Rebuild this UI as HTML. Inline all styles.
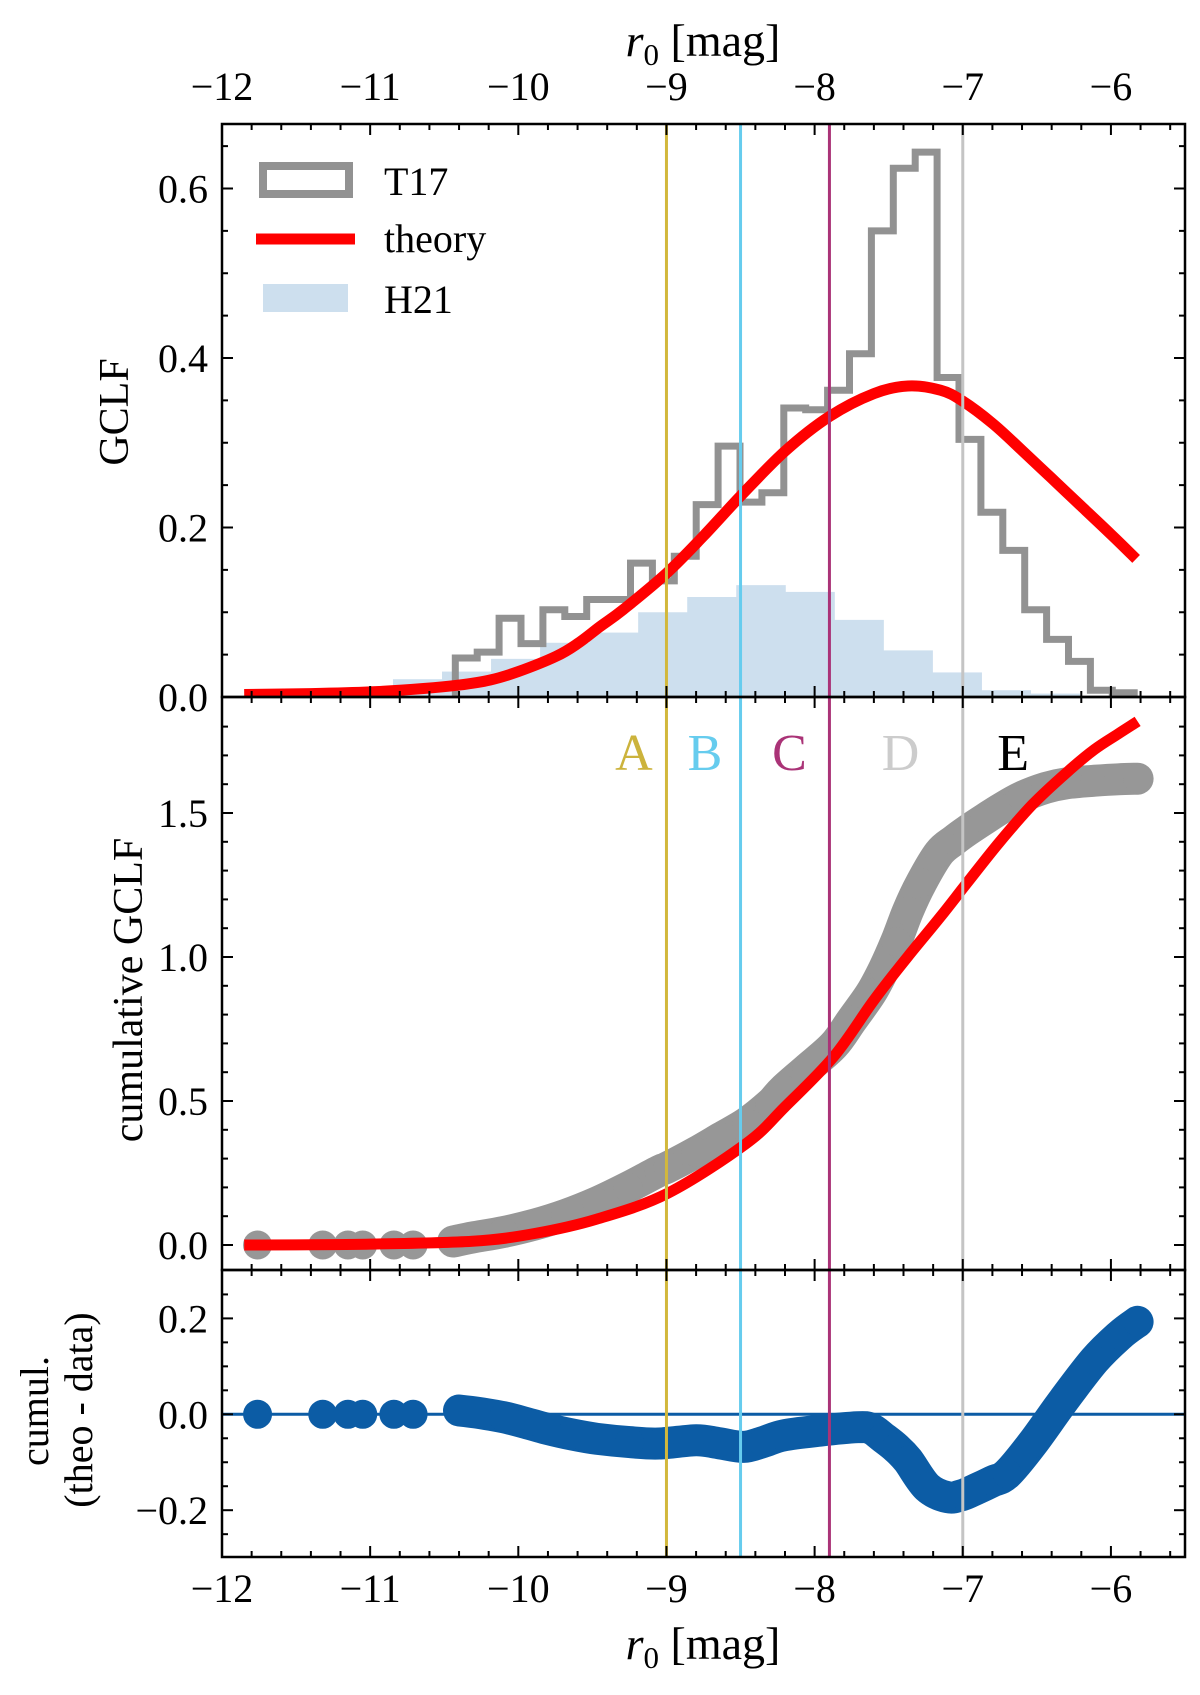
<!DOCTYPE html>
<html><head><meta charset="utf-8"><style>
html,body{margin:0;padding:0;background:#fff;}
svg{display:block;}
text{font-family:"Liberation Serif","DejaVu Serif",serif;fill:#000;}
</style></head><body>
<svg id="fig" width="1200" height="1695" viewBox="0 0 1200 1695" xmlns="http://www.w3.org/2000/svg"></svg>
<script>
// ---------- data ----------
const t17Start = -10.425;
const t17Width = 0.1478;
const t17Values = [0.046,0.053,0.093,0.063,0.103,0.095,0.115,0.115,0.158,0.137,0.166,0.227,0.296,0.230,0.241,0.341,0.339,0.362,0.405,0.550,0.624,0.643,0.377,0.304,0.218,0.173,0.103,0.068,0.042,0.008,0.005];
const h21Start = -10.846;
const h21Width = 0.331;
const h21Values = [0.021,0.030,0.045,0.064,0.076,0.100,0.118,0.132,0.124,0.091,0.055,0.029,0.008,0.004];
const theoryX = [-11.85,-11.4,-11.0,-10.64,-10.4,-10.19,-10.0,-9.745,-9.6,-9.449,-9.293,-9.0,-8.75,-8.5,-8.2,-7.9,-7.6,-7.37,-7.15,-7.0,-6.8,-6.6,-6.4,-6.2,-6.0,-5.83];
const theoryY = [0.003,0.004,0.006,0.010,0.014,0.020,0.030,0.048,0.063,0.083,0.103,0.146,0.190,0.237,0.290,0.331,0.358,0.367,0.362,0.349,0.323,0.291,0.258,0.225,0.192,0.163];
const denseFrom = -10.45;
const cumDataX = [-11.76,-11.32,-11.15,-11.05,-10.84,-10.71,-10.44,-10.31,-10.1,-9.89,-9.68,-9.47,-9.26,-9.05,-8.99,-8.8,-8.63,-8.46,-8.3,-8.21,-8.05,-7.87,-7.75,-7.62,-7.53,-7.45,-7.37,-7.28,-7.16,-7.06,-6.97,-6.85,-6.74,-6.6,-6.44,-6.3,-6.11,-5.95,-5.82];
const cumDataY = [0,0,0,0,0,0,0.012,0.026,0.045,0.071,0.105,0.148,0.200,0.257,0.270,0.322,0.373,0.424,0.490,0.540,0.612,0.694,0.780,0.874,0.960,1.053,1.160,1.258,1.361,1.405,1.439,1.480,1.516,1.556,1.587,1.603,1.612,1.617,1.619];
const cumTheoX = [-11.85,-11.0,-10.31,-9.89,-9.47,-8.99,-8.46,-8.2,-7.87,-7.6,-7.37,-7.15,-6.97,-6.75,-6.53,-6.3,-6.11,-5.95,-5.82];
const cumTheoY = [0.0,0.003,0.013,0.04,0.090,0.180,0.353,0.48,0.655,0.85,1.002,1.14,1.258,1.40,1.529,1.64,1.721,1.775,1.818];
const resX = [-11.76,-11.32,-11.15,-11.05,-10.84,-10.71,-10.40,-10.25,-10.1,-9.95,-9.81,-9.64,-9.47,-9.25,-9.05,-8.8,-8.65,-8.48,-8.35,-8.21,-7.96,-7.71,-7.62,-7.54,-7.45,-7.37,-7.24,-7.10,-7.0,-6.91,-6.80,-6.70,-6.53,-6.32,-6.11,-5.94,-5.82];
const resY = [0,0,0,0,0,0,0.008,0.002,-0.006,-0.018,-0.030,-0.042,-0.051,-0.058,-0.061,-0.054,-0.060,-0.068,-0.058,-0.044,-0.034,-0.027,-0.030,-0.048,-0.070,-0.096,-0.152,-0.173,-0.168,-0.156,-0.140,-0.124,-0.061,0.029,0.113,0.165,0.193];
const vLineX = [-9.0,-8.5,-7.9,-7.0];
const vLineColors = ['#d2b83c','#66ccee','#aa3377','#c4c4c4'];
const letterLabels = ['A','B','C','D','E'];
const letterX = [-9.22,-8.74,-8.17,-7.42,-6.66];
const letterColors = ['#ccb33c','#66ccee','#aa3377','#cccccc','#000000'];
const xTicksMajor = [-12,-11,-10,-9,-8,-7,-6];
const xTickLabels = ['\u221212','\u221211','\u221210','\u22129','\u22128','\u22127','\u22126'];
const topYTicks = [0.0,0.2,0.4,0.6];
const topYTickLabels = ['0.0','0.2','0.4','0.6'];
const midYTicks = [0.0,0.5,1.0,1.5];
const midYTickLabels = ['0.0','0.5','1.0','1.5'];
const botYTicks = [-0.2,0.0,0.2];
const botYTickLabels = ['\u22120.2','0.0','0.2'];

// ---------- scales ----------
const L = 222, R = 1185;
const xmin = -12, xmax = -5.5;
function X(v){ return L + (v - xmin) * (R - L) / (xmax - xmin); }
const P1 = {top:124, bot:697, y0:697, k:847.5, ymin:0, ymax:0.676};
const P2 = {top:697, bot:1270, y0:1245, k:288, ymin:-0.087, ymax:1.903};
const P3 = {top:1270, bot:1557, y0:1414.3, k:479.5, ymin:-0.297, ymax:0.301};
function Y(p, v){ return p.y0 - v * p.k; }

const NS = 'http://www.w3.org/2000/svg';
const svg = document.getElementById('fig');
function mk(tag, attrs, parent){
  const e = document.createElementNS(NS, tag);
  for (const k in attrs) e.setAttribute(k, attrs[k]);
  (parent || svg).appendChild(e);
  return e;
}
const defs = mk('defs', {});
[P1,P2,P3].forEach((p,i)=>{
  const cp = mk('clipPath', {id:'clip'+i}, defs);
  mk('rect', {x:L, y:p.top, width:R-L, height:p.bot-p.top}, cp);
});
function smoothPath(xs, ys, p){
  const pts = xs.map((x,i)=>[X(x), Y(p, ys[i])]);
  let d = 'M' + pts[0][0].toFixed(1) + ',' + pts[0][1].toFixed(1);
  for (let i=0;i<pts.length-1;i++){
    const p0 = pts[Math.max(0,i-1)], p1 = pts[i], p2 = pts[i+1], p3 = pts[Math.min(pts.length-1,i+2)];
    const c1x = p1[0] + (p2[0]-p0[0])/6, c1y = p1[1] + (p2[1]-p0[1])/6;
    const c2x = p2[0] - (p3[0]-p1[0])/6, c2y = p2[1] - (p3[1]-p1[1])/6;
    d += ' C' + c1x.toFixed(1)+','+c1y.toFixed(1)+' '+c2x.toFixed(1)+','+c2y.toFixed(1)+' '+p2[0].toFixed(1)+','+p2[1].toFixed(1);
  }
  return d;
}
function scatterBand(xs, ys, p, color, gClip, name){
  const g = mk('g', {'clip-path':'url(#'+gClip+')'});
  
  
  const idx = [];
  xs.forEach((x,i)=>{ if (x >= denseFrom) idx.push(i); });
  if (idx.length > 1){
    const d = smoothPath(idx.map(i=>xs[i]), idx.map(i=>ys[i]), p);
    const band = mk('path', {d:d, fill:'none', stroke:color, 'stroke-width':32, 'stroke-linecap':'round', 'stroke-linejoin':'round'}, g);
    
    
  }
  xs.forEach((x,i)=>{
    const c = mk('circle', {cx:X(x), cy:Y(p, ys[i]), r:14.5, fill:color}, g);
    
    
  });
}

// ---------- panel 1 ----------
const g1 = mk('g', {'clip-path':'url(#clip0)'});


h21Values.forEach((v,i)=>{
  const x0 = X(h21Start + i*h21Width), x1 = X(h21Start + (i+1)*h21Width);
  const r = mk('rect', {x:x0, y:Y(P1,v), width:x1-x0+0.5, height:Y(P1,0)-Y(P1,v), fill:'#cddfee'}, g1);
  
  
});
(function(){
  let d = 'M' + X(t17Start) + ',' + Y(P1,0);
  t17Values.forEach((v,i)=>{
    d += ' L' + X(t17Start + i*t17Width).toFixed(1) + ',' + Y(P1,v).toFixed(1);
    d += ' L' + X(t17Start + (i+1)*t17Width).toFixed(1) + ',' + Y(P1,v).toFixed(1);
  });
  d += ' L' + X(t17Start + t17Values.length*t17Width).toFixed(1) + ',' + Y(P1,0);
  const s = mk('path', {d:d, fill:'none', stroke:'#929292', 'stroke-width':7, 'stroke-linejoin':'miter'}, g1);
  
  
})();
(function(){
  const t = mk('path', {d:smoothPath(theoryX, theoryY, P1), fill:'none', stroke:'#ff0000', 'stroke-width':11}, g1);
  
  
})();

// ---------- panel 2 ----------
scatterBand(cumDataX, cumDataY, P2, '#979797', 'clip1', 'cumulative-data');
(function(){
  const g = mk('g', {'clip-path':'url(#clip1)'});
  const t = mk('path', {d:smoothPath(cumTheoX, cumTheoY, P2), fill:'none', stroke:'#ff0000', 'stroke-width':11}, g);
  
  
})();

// ---------- panel 3 ----------
(function(){
  const z = mk('line', {x1:L, x2:R, y1:Y(P3,0), y2:Y(P3,0), stroke:'#0c5ca5', 'stroke-width':3});
  
  
})();
scatterBand(resX, resY, P3, '#0c5ca5', 'clip2', 'residual-data');

// ---------- vertical lines ----------
vLineX.forEach((v,i)=>{
  const l = mk('line', {x1:X(v), x2:X(v), y1:P1.top, y2:P3.bot, stroke:vLineColors[i], 'stroke-width':3});
  
  
});
letterLabels.forEach((s,i)=>{
  const t = mk('text', {x:X(letterX[i]), y:770, 'font-size':52, 'text-anchor':'middle'});
  t.style.fill = letterColors[i];
  t.textContent = s;
  
  
});

// ---------- axes ----------
function frame(p, name){
  const r = mk('rect', {x:L, y:p.top, width:R-L, height:p.bot-p.top, fill:'none', stroke:'#000', 'stroke-width':2.5});
  
  
}
frame(P1,'gclf-axes-frame'); frame(P2,'cumulative-axes-frame'); frame(P3,'residual-axes-frame');
function xTicks(p){
  for (let k=0; k<=32; k++){
    const v = -12 + k*0.2;
    if (v > xmax+1e-6) break;
    const len = (k % 5 === 0) ? 11 : 6;
    const x = X(v);
    mk('line', {x1:x, x2:x, y1:p.bot, y2:p.bot-len, stroke:'#000', 'stroke-width':2});
    mk('line', {x1:x, x2:x, y1:p.top, y2:p.top+len, stroke:'#000', 'stroke-width':2});
  }
}
[P1,P2,P3].forEach(xTicks);
function yTicks(p, step, majorEvery, ticks, labels, name){
  const n0 = Math.ceil(p.ymin/step - 1e-6), n1 = Math.floor(p.ymax/step + 1e-6);
  for (let n=n0; n<=n1; n++){
    const v = n*step, y = Y(p, v);
    if (y < p.top+1 || y > p.bot-1) continue;
    const len = (Math.abs(n) % majorEvery === 0) ? 11 : 6;
    mk('line', {x1:L, x2:L+len, y1:y, y2:y, stroke:'#000', 'stroke-width':2});
    mk('line', {x1:R, x2:R-len, y1:y, y2:y, stroke:'#000', 'stroke-width':2});
  }
  ticks.forEach((v,i)=>{
    const t = mk('text', {x:208, y:Y(p,v)+14, 'font-size':40, 'text-anchor':'end'});
    t.textContent = labels[i];
    
    
  });
}
yTicks(P1, 0.05, 4, topYTicks, topYTickLabels, 'gclf-y');
yTicks(P2, 0.1, 5, midYTicks, midYTickLabels, 'cumulative-y');
yTicks(P3, 0.05, 4, botYTicks, botYTickLabels, 'residual-y');
xTicksMajor.forEach((v,i)=>{
  const t1 = mk('text', {x:X(v), y:100, 'font-size':40, 'text-anchor':'middle'});
  t1.textContent = xTickLabels[i];
  
  
  const t2 = mk('text', {x:X(v), y:1602, 'font-size':40, 'text-anchor':'middle'});
  t2.textContent = xTickLabels[i];
  
  
});
</script>
<script>
(function(){
  const NS='http://www.w3.org/2000/svg', svg=document.getElementById('fig');
  function add(html){ const g=document.createElementNS(NS,'g'); g.innerHTML=html; svg.appendChild(g); }
  add(
  '<text x="703" y="56" font-size="46" text-anchor="middle"><tspan font-style="italic">r</tspan><tspan font-size="31" dy="9">0</tspan><tspan dy="-9"> [mag]</tspan></text>'+
  '<text x="703" y="1659" font-size="46" text-anchor="middle"><tspan font-style="italic">r</tspan><tspan font-size="31" dy="9">0</tspan><tspan dy="-9"> [mag]</tspan></text>'+
  '<text transform="translate(128,412) rotate(-90)" font-size="42" text-anchor="middle">GCLF</text>'+
  '<text transform="translate(142,990) rotate(-90)" font-size="42" text-anchor="middle">cumulative GCLF</text>'+
  '<text transform="translate(48,1411) rotate(-90)" font-size="40" text-anchor="middle">cumul.</text>'+
  '<text transform="translate(92,1410) rotate(-90)" font-size="40" text-anchor="middle">(theo - data)</text>'+
  '<g>'+
   '<rect x="263" y="166" width="86" height="28" fill="none" stroke="#929292" stroke-width="8"/>'+
   '<text x="384" y="195" font-size="40">T17</text>'+
   '<line x1="256" x2="355" y1="239" y2="239" stroke="#ff0000" stroke-width="11"/>'+
   '<text x="384" y="252" font-size="40">theory</text>'+
   '<rect x="263" y="284" width="85" height="28" fill="#cddfee"/>'+
   '<text x="384" y="313" font-size="40">H21</text>'+
  '</g>');
})();
</script>
</body></html>
